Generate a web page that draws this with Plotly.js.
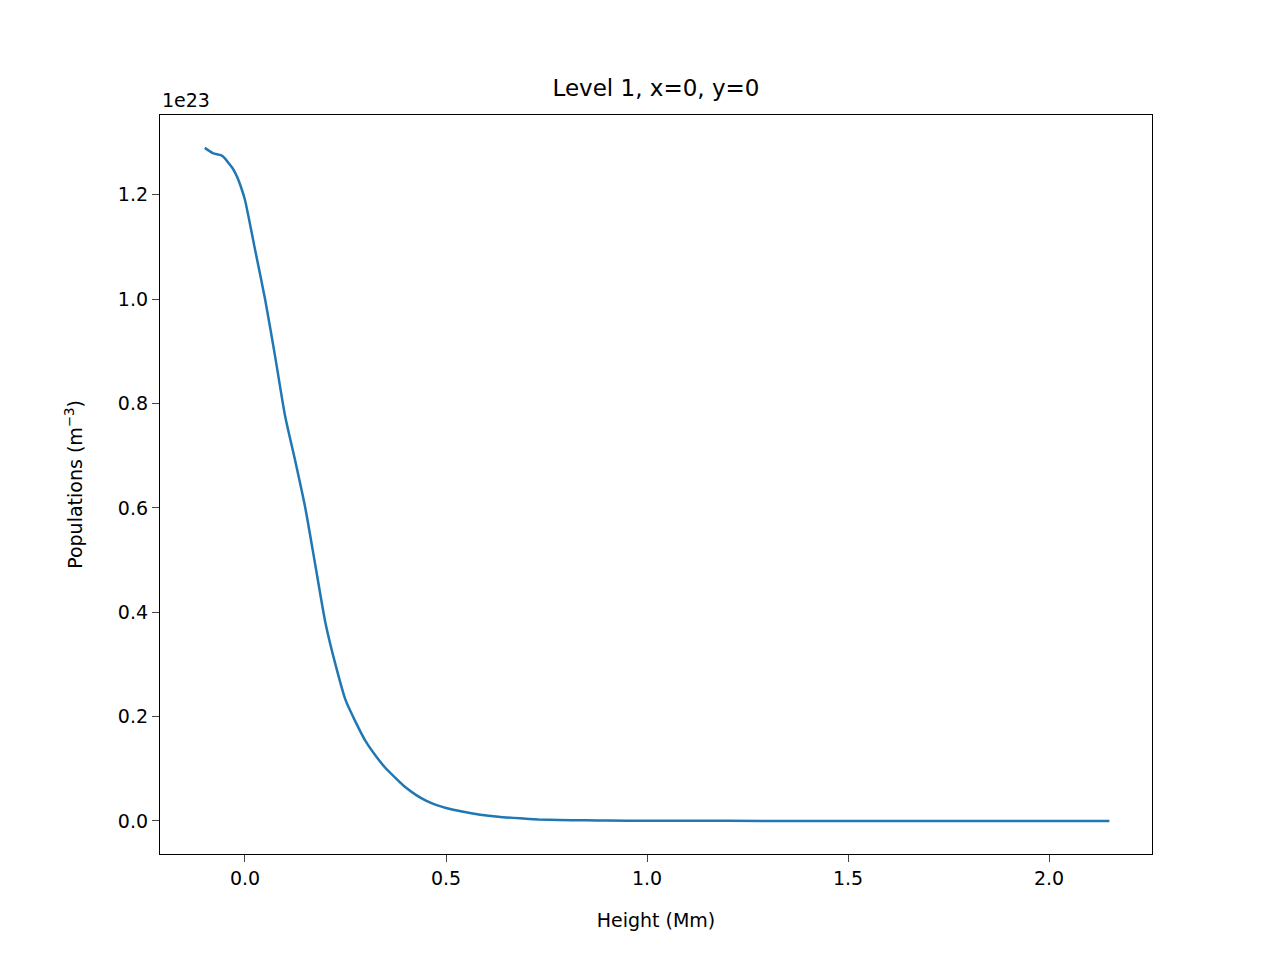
<!DOCTYPE html>
<html><head><script src="https://cdn.plot.ly/plotly-3.0.1.min.js"></script></head>
<body style="margin:0">
<div id="c" style="width:1280px;height:960px"></div>
<script>
const heights = [-0.1,-0.08,-0.06,-0.05,-0.04,-0.03,-0.02,-0.01,0.0,0.025,0.05,0.075,0.1,0.125,0.15,0.175,0.2,0.225,0.25,0.275,0.3,0.325,0.35,0.375,0.4,0.425,0.45,0.475,0.5,0.54,0.585,0.63,0.684,0.73,0.78,0.85,0.9,1.0,1.2,1.5,1.8,2.0,2.15];
const populations = [1.29,1.28,1.276,1.27,1.26,1.25,1.235,1.215,1.19,1.095,1.0,0.89,0.775,0.69,0.6,0.49,0.38,0.3,0.232,0.19,0.153,0.125,0.101,0.082,0.064,0.05,0.039,0.031,0.025,0.018,0.012,0.008,0.005,0.003,0.002,0.0012,0.0008,0.0004,0.0002,0.0001,0.00005,0.00002,0.00001];
const scale = 1e23;
Plotly.newPlot('c',[{x:heights,y:populations.map(v=>v*scale),mode:'lines',line:{color:'#1f77b4',width:2.5,shape:'spline',smoothing:0.6}}],{
  width:1280,height:960,showlegend:false,paper_bgcolor:'white',plot_bgcolor:'white',
  font:{family:'DejaVu Sans',size:19,color:'black'},
  margin:{l:160,r:128,t:115,b:106},
  title:{text:'Level 1, x=0, y=0',xref:'paper',x:0.5,xanchor:'center',y:0.908,yanchor:'middle',font:{size:23}},
  xaxis:{range:[-0.2114,2.256],tickvals:[0,0.5,1,1.5,2],ticktext:['0.0','0.5','1.0','1.5','2.0'],ticks:'outside',ticklen:7,showgrid:false,zeroline:false,showline:true,mirror:true,linecolor:'black',linewidth:1.3,
    title:{text:'Height (Mm)',standoff:25,font:{size:19}}},
  yaxis:{range:[-0.0633*scale,1.353*scale],tickvals:[0,0.2,0.4,0.6,0.8,1.0,1.2].map(v=>v*scale),ticktext:['0.0','0.2','0.4','0.6','0.8','1.0','1.2'],ticks:'outside',ticklen:7,showgrid:false,zeroline:false,showline:true,mirror:true,linecolor:'black',linewidth:1.3,
    title:{text:'Populations (m<sup>−3</sup>)',standoff:30,font:{size:19}}},
  annotations:[{text:'1e23',xref:'paper',yref:'paper',x:0,y:1,xanchor:'left',yanchor:'bottom',yshift:2,showarrow:false,font:{size:19}}]
},{displayModeBar:false});
</script></body></html>
